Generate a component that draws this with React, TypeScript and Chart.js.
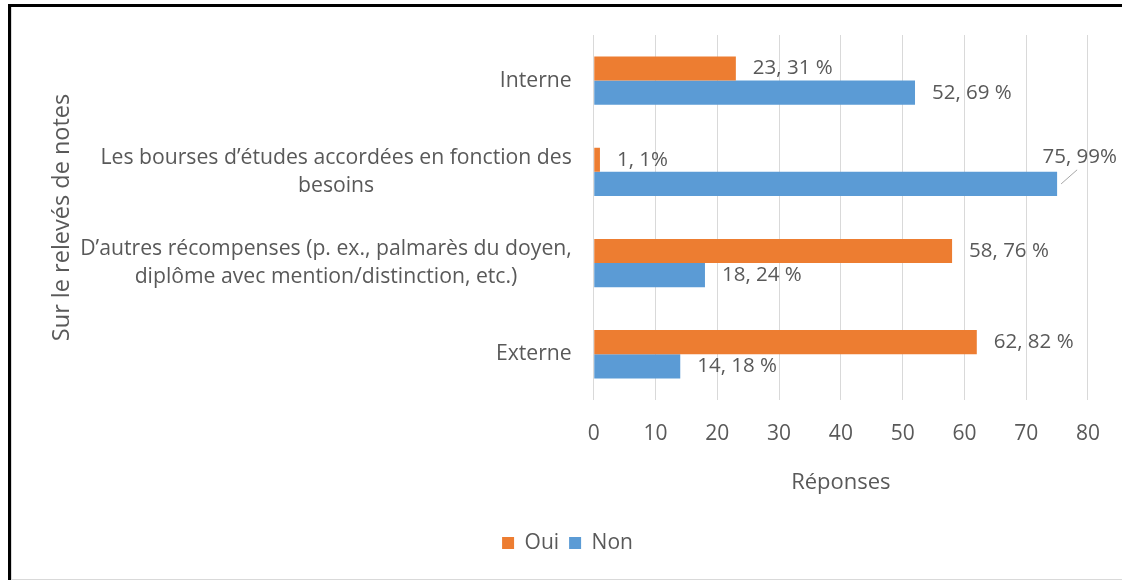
import React, { useEffect, useRef } from "react";
import { Chart, registerables } from "chart.js";

Chart.register(...registerables);

const categories: string[][] = [
  ["Interne"],
  ["Les bourses d’études accordées en fonction des", "besoins"],
  ["D’autres récompenses (p. ex., palmarès du doyen,", "diplôme avec mention/distinction, etc.)"],
  ["Externe"],
];
const seriesNames = ["Oui", "Non"];
const seriesColors = ["#ED7D31", "#5B9BD5"];
const ouiValues = [23, 1, 58, 62];
const nonValues = [52, 75, 18, 14];
const ouiLabels = ["23, 31 %", "1, 1%", "58, 76 %", "62, 82 %"];
const nonLabels = ["52, 69 %", "75, 99%", "18, 24 %", "14, 18 %"];
const xTickValues = [0, 10, 20, 30, 40, 50, 60, 70, 80];
const yAxisTitle = "Sur le relevés de notes";
const xAxisTitle = "Réponses";

const valueLabels = [ouiLabels, nonLabels];
const FONT = "'Open Sans', sans-serif";
const TEXT = "#595959";
const CAT_FS = 21.2;
const VAL_FS = 20.5;
const TICK_FS = 21;
const XTITLE_FS = 22;
const YTITLE_FS = 23.5;
const LEGEND_FS = 21;
const LINE_H = 1.32;
const TICK_PAD = 22;
const YTITLE_PAD = { top: 2, bottom: 4 };

const categoryLabelPlugin = {
  id: "categoryLabels",
  afterDraw(chart: any) {
    const { ctx } = chart;
    const ys = chart.scales.y;
    const lh = CAT_FS * LINE_H;
    ctx.save();
    ctx.font = `${CAT_FS}px ${FONT}`;
    ctx.fillStyle = TEXT;
    ctx.textAlign = "center";
    ctx.textBaseline = "middle";
    const right = ys.right - TICK_PAD;
    categories.forEach((lines, i) => {
      const yc = ys.getPixelForValue(i);
      const w = Math.max(...lines.map((l) => ctx.measureText(l).width));
      const cx = right - w / 2;
      lines.forEach((l, j) => ctx.fillText(l, cx, yc + (j - (lines.length - 1) / 2) * lh));
    });
    ctx.restore();
  },
};

const valueLabelPlugin = {
  id: "valueLabels",
  afterDatasetsDraw(chart: any) {
    const { ctx } = chart;
    ctx.save();
    ctx.font = `${VAL_FS}px ${FONT}`;
    ctx.fillStyle = TEXT;
    ctx.textBaseline = "middle";
    ctx.textAlign = "left";
    chart.data.datasets.forEach((_ds: any, di: number) => {
      const meta = chart.getDatasetMeta(di);
      meta.data.forEach((bar: any, i: number) => {
        const text = valueLabels[di][i];
        const w = ctx.measureText(text).width;
        let x = bar.x + 17;
        let y = bar.y;
        if (x + w > chart.width - 4) {
          const h = bar.height;
          x = chart.width - 5 - w;
          y = bar.y - h - 3;
          ctx.strokeStyle = "#A6A6A6";
          ctx.lineWidth = 1;
          ctx.beginPath();
          ctx.moveTo(bar.x + 4, bar.y);
          ctx.lineTo(bar.x + 20, y + h / 2 + 1);
          ctx.stroke();
        }
        ctx.fillText(text, x, y);
      });
    });
    ctx.restore();
  },
};

export default function App() {
  const ref = useRef<HTMLCanvasElement>(null);
  useEffect(() => {
    if (!ref.current) return;
    const chart = new Chart(ref.current, {
      type: "bar",
      data: {
        labels: categories as any,
        datasets: [
          { label: seriesNames[0], data: ouiValues, backgroundColor: seriesColors[0], categoryPercentage: 0.53, barPercentage: 1 },
          { label: seriesNames[1], data: nonValues, backgroundColor: seriesColors[1], categoryPercentage: 0.53, barPercentage: 1 },
        ],
      },
      options: {
        indexAxis: "y",
        responsive: false,
        animation: false,
        layout: { padding: { left: 34, right: 33, top: 28, bottom: 15.5 } },
        plugins: {
          legend: {
            position: "bottom",
            labels: { boxWidth: 12, boxHeight: 12, color: TEXT, font: { family: FONT, size: LEGEND_FS }, padding: 10 },
          },
          tooltip: { enabled: false },
        },
        scales: {
          x: {
            min: xTickValues[0],
            max: xTickValues[xTickValues.length - 1],
            afterBuildTicks: (s: any) => {
              s.ticks = xTickValues.map((v) => ({ value: v }));
            },
            ticks: { color: TEXT, font: { family: FONT, size: TICK_FS }, padding: TICK_PAD },
            grid: { color: "#D9D9D9", drawTicks: false },
            border: { display: false },
            title: {
              display: true,
              text: xAxisTitle,
              color: TEXT,
              font: { family: FONT, size: XTITLE_FS },
              padding: { top: 0, bottom: 27 },
            },
          },
          y: {
            ticks: { color: "rgba(0,0,0,0)", padding: 0, font: { family: FONT, size: CAT_FS } },
            grid: { display: false },
            border: { display: false },
            title: {
              display: true,
              text: yAxisTitle,
              color: TEXT,
              font: { family: FONT, size: YTITLE_FS },
              padding: YTITLE_PAD,
            },
            afterFit: (scale: any) => {
              const ctx = scale.ctx;
              ctx.save();
              ctx.font = `${CAT_FS}px ${FONT}`;
              const widest = Math.max(...categories.flat().map((l) => ctx.measureText(l).width));
              ctx.restore();
              scale.width = widest + TICK_PAD + YTITLE_FS * 1.2 + YTITLE_PAD.top + YTITLE_PAD.bottom;
            },
          },
        },
      } as any,
      plugins: [categoryLabelPlugin, valueLabelPlugin],
    });
    return () => chart.destroy();
  }, []);

  return (
    <div
      style={{
        position: "absolute",
        left: 8,
        top: 4,
        width: 1114,
        height: 576,
        borderTop: "3px solid #000",
        borderLeft: "3px solid #000",
        boxSizing: "border-box",
        background: "#fff",
      }}
    >
      <div style={{ borderLeft: "1px solid #D9D9D9", borderBottom: "1px solid #D9D9D9", width: 1110, height: 572 }}>
        <canvas ref={ref} width={1110} height={572} style={{ display: "block" }} />
      </div>
    </div>
  );
}
